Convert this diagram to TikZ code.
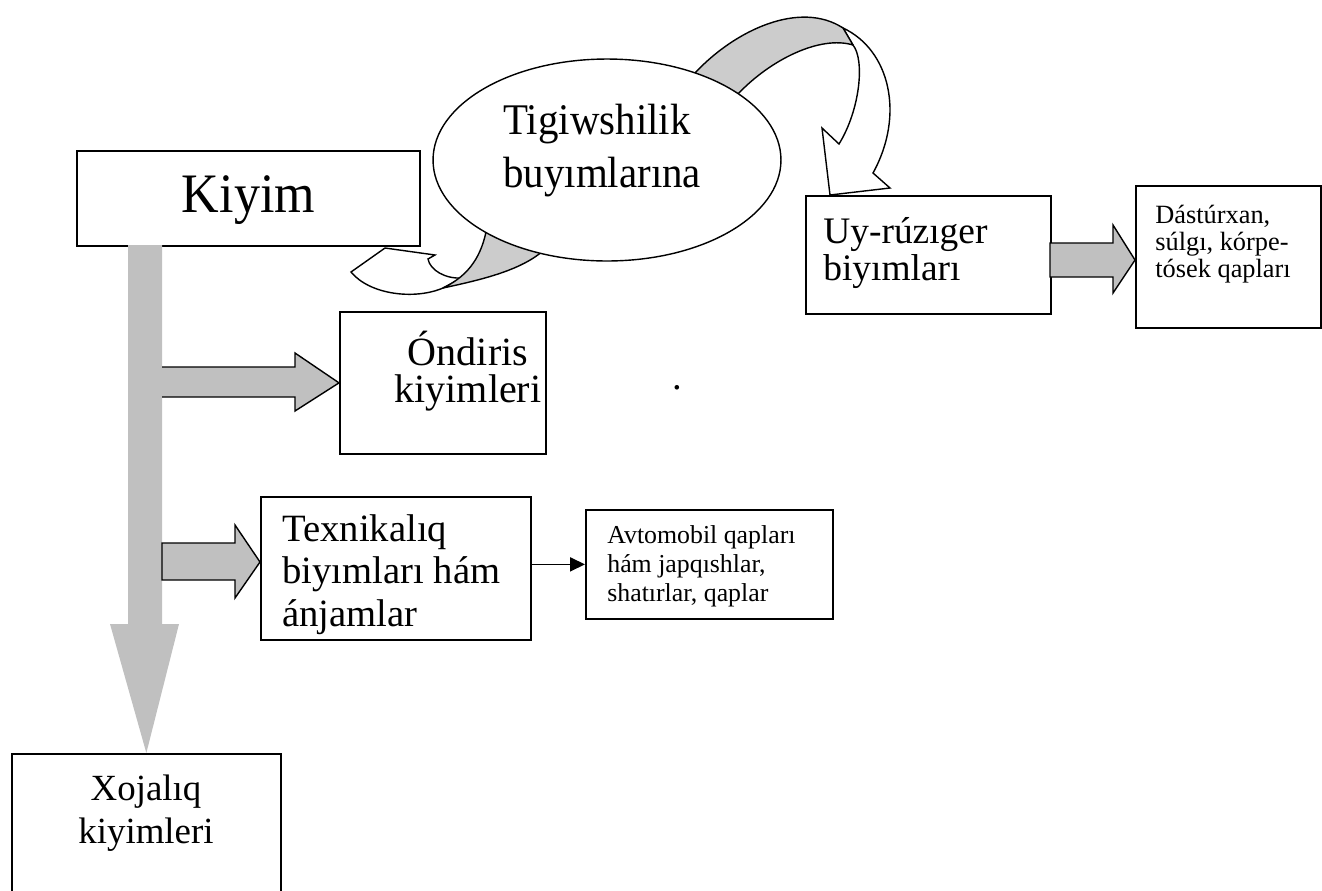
\documentclass[tikz,border=0pt]{standalone}
\usepackage{fontspec}
\setmainfont{Liberation Serif}
\newfontfamily\tallfont[FakeStretch=0.935]{Liberation Serif}
\usetikzlibrary{shapes, arrows.meta}
\definecolor{arrowgrey}{HTML}{C0C0C0}
\definecolor{bandgrey}{HTML}{CCCCCC}
\newcommand{\topline}{\rule{0pt}{1em}}

\begin{document}
\begin{tikzpicture}[x=0.02cm, y=-0.02cm,
        box/.style = {draw, line width=1pt, anchor=north west, inner sep=0},
        txt/.style = {inner sep=0, align=left, anchor=north west},
        ctxt/.style = {inner sep=0, align=center, anchor=north},
        blockarrow/.style = {draw, line width=0.8pt, fill=arrowgrey},
        band/.style = {draw, line width=0.8pt, fill=bandgrey, line join=round},
        twist/.style = {draw, line width=0.8pt, fill=white}]
                \useasboundingbox (0, 0) rectangle (1322, 890);
                \clip (0, 0) rectangle (1322, 890);

                \node[box, minimum width=6.86cm, minimum height=1.9cm] at (76, 150) (kiyim) {};
                \node[box, minimum width=4.12cm, minimum height=2.84cm] at (339, 311) (ondiris) {};
                \node[box, minimum width=4.9cm, minimum height=2.36cm] at (805, 195) (uy) {};
                \node[box, minimum width=3.7cm, minimum height=2.84cm] at (1135, 185) (dast) {};
                \node[box, minimum width=5.4cm, minimum height=2.86cm] at (260, 496) (texn) {};
                \node[box, minimum width=4.94cm, minimum height=2.18cm] at (585, 509) (avto) {};
                \node[box, minimum width=5.38cm, minimum height=3.2cm] at (11, 753) (xoj) {};

                % grey arrows
                \fill[arrowgrey] (128, 245) -- (162, 245) -- (162, 624) -- (179, 624) -- (xoj.north) -- (110, 624) -- (128, 624) -- cycle;
                \path[blockarrow] (162, 367) -- (295, 367) -- (295, 353) -- (ondiris.west) -- (295, 411) -- (295, 397) -- (162, 397);
                \draw[blockarrow] (162, 543) -- (235, 543) -- (235, 525) -- (260, 562) -- (235, 598) -- (235, 580) -- (162, 580) -- cycle;
                \draw[blockarrow] (1050, 243) -- (1113, 243) -- (1113, 225) -- (1135, 260) -- (1113, 293) -- (1113, 277) -- (1050, 277) -- cycle;
                \draw[line width=0.8pt, -{Triangle[length=8.5pt, width=8pt]}] (texn.east |- avto.west) -- (avto.west);

                % twisted arrows round the ellipse
                \draw[twist] (843, 28) .. controls (890, 50) and (905, 115) .. (873, 173) -- (890, 188) -- (830, 195) -- (822, 128) -- (839, 144) .. controls (860, 110) and (865, 60) .. (853, 45) -- cycle;
                \draw[band] (695, 73) .. controls (735, 30) and (800, 0) .. (843, 28) -- (853, 45) .. controls (820, 35) and (770, 60) .. (738, 94) -- cycle;
                \draw[twist] (443, 288) .. controls (415, 300) and (370, 295) .. (351, 272) -- (385, 248) -- (435, 255) -- (428, 259) .. controls (430, 270) and (445, 279) .. (462, 278) -- cycle;
                \draw[band] (487, 227) .. controls (482, 255) and (470, 275) .. (443, 288) .. controls (480, 280) and (525, 270) .. (547, 247) -- cycle;
                \node[draw, ellipse, fill=white, line width=0.8pt, inner sep=0, minimum width=6.96cm, minimum height=4.04cm] at (607, 160) (tig) {};

                % texts
                \node[inner sep=0, anchor=base, font=\tallfont\fontsize{31.7}{35}\selectfont] at (248.5, 212) (kiyimtext) {Kiyim};
                \node[txt, font=\tallfont\fontsize{24.9}{30.2}\selectfont] at (503, 90.2) (tigtext) {\topline Tigiwshilik\\buyımlarına};
                \node[ctxt, font=\fontsize{22.8}{21}\selectfont] at (468, 325) (ondiristext) {\topline Óndiris\\kiyimleri};
                \node[txt, font=\fontsize{21.3}{21}\selectfont] at (823, 205.5) (uytext) {\topline Uy-rúzıger\\biyımları};
                \node[txt, font=\fontsize{15}{15.4}\selectfont] at (1155, 196.6) (dasttext) {\topline Dástúrxan,\\súlgı, kórpe-\\tósek qapları};
                \node[txt, font=\fontsize{22}{24.2}\selectfont] at (282, 502.3) (texntext) {\topline Texnikalıq\\biyımları hám\\ánjamlar};
                \node[txt, font=\fontsize{14.7}{16.5}\selectfont] at (607, 517.2) (avtotext) {\topline Avtomobil qapları\\hám japqıshlar,\\shatırlar, qaplar};
                \node[ctxt, font=\fontsize{21}{24.5}\selectfont] at (146, 763) (xojtext) {\topline Xojalıq\\kiyimleri};
                \node[inner sep=0, anchor=base, font=\fontsize{22}{22}\selectfont] at (677, 389) (dot) {.};
\end{tikzpicture}
\end{document}
